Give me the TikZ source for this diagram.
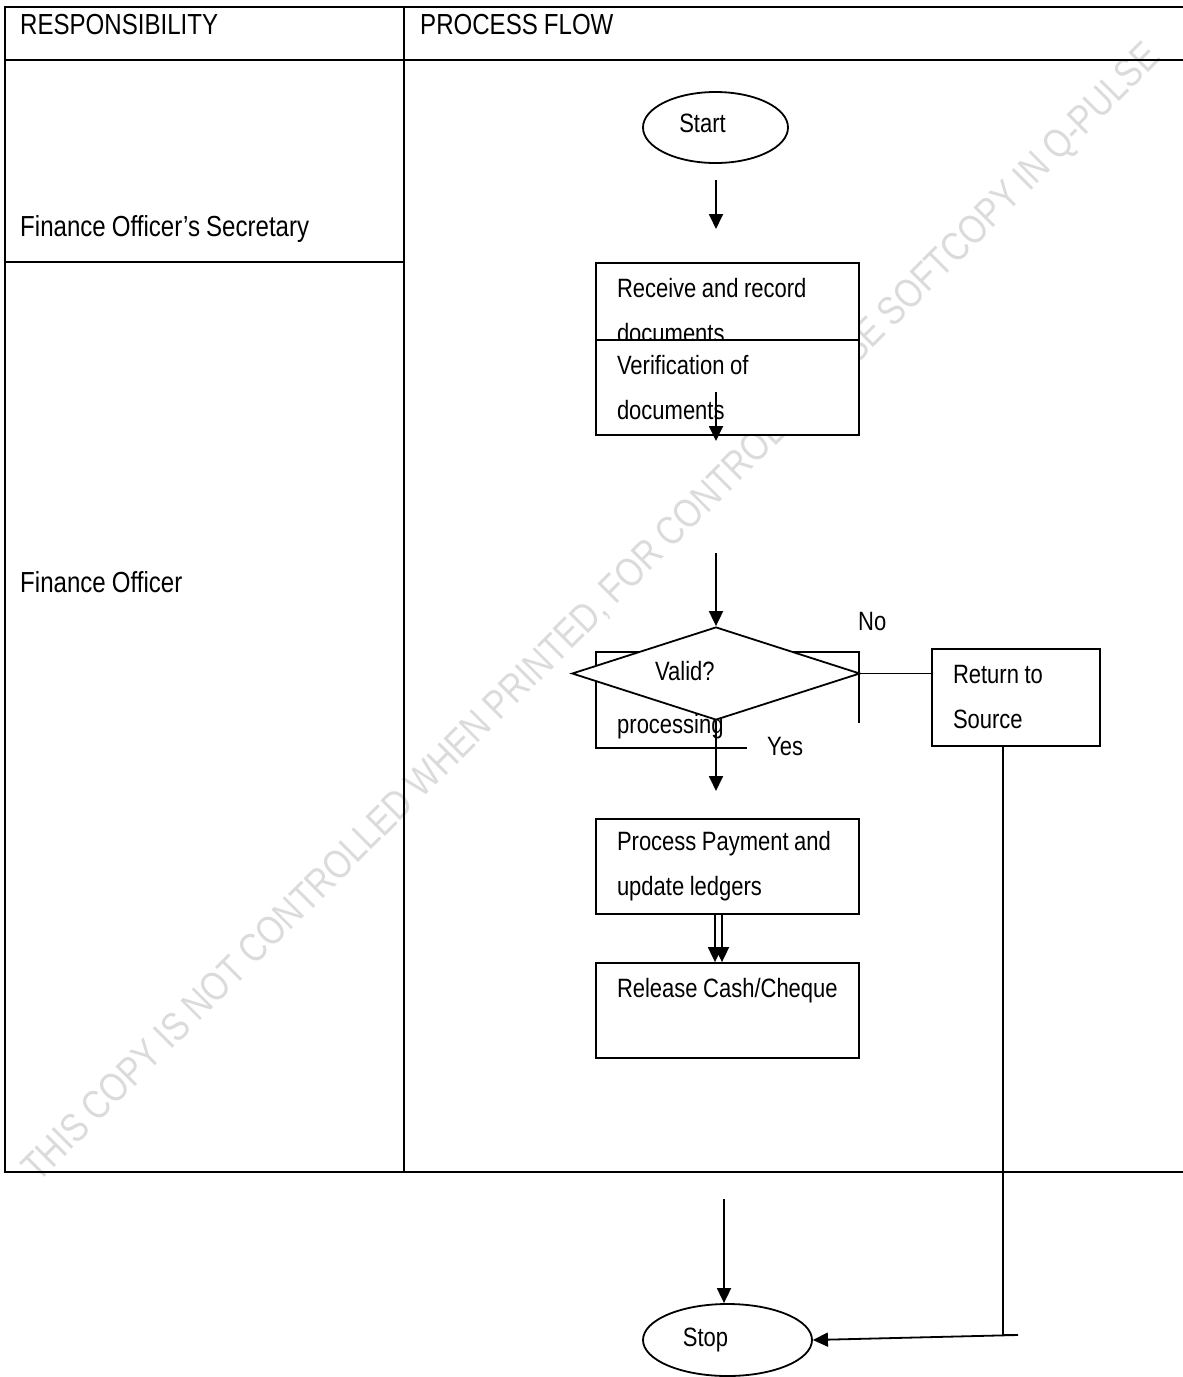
\documentclass[tikz,border=0pt]{standalone}
\usepackage{fontspec}
\setmainfont{Liberation Sans}[FakeStretch=0.83,WordSpace=0.9]
\usepackage{tikz}
\usetikzlibrary{arrows.meta,shapes.geometric,positioning}

\begin{document}
\begin{tikzpicture}[x=1pt,y=-1pt,>={Triangle[length=15pt,width=14pt]},
    every node/.style={font=\fontsize{26.5}{45}\selectfont},
    grid/.style={line width=2.6pt,line cap=rect},
    lbl/.style={anchor=base west,inner sep=0pt},
    lane/.style={lbl,font=\fontsize{29}{34}\selectfont},
    proc/.style={draw,line width=1.8pt,fill=white,inner xsep=21pt,inner ysep=0pt,align=flush left,minimum height=95pt},
    term/.style={draw,ellipse,line width=1.8pt,inner sep=0pt},
    flow/.style={->,line width=1.8pt}]
  \useasboundingbox (0,0) rectangle (1183,1377);
  % watermark
  \node[text=gray!28,rotate=45,inner sep=0pt] (mark) at (593,614)
    {\resizebox{1590pt}{!}{THIS COPY IS NOT CONTROLLED WHEN PRINTED, FOR CONTROLLED USE SOFTCOPY IN Q-PULSE}};
  % table
  \draw[grid] (5,7) -- (1183,7) (5,60) -- (1183,60) (5,262) -- (404,262) (5,1172) -- (1183,1172)
    (5,7) -- (5,1172) (404,7) -- (404,1172);
  \node[lane] (resp) at (20,34) {RESPONSIBILITY};
  \node[lane] (pflow) at (420,34) {PROCESS FLOW};
  \node[lane] (sec) at (20,236) {Finance Officer’s Secretary};
  \node[lane] (fo) at (20,592) {Finance Officer};
  % flow
  \node[term,minimum width=145pt,minimum height=71pt,label={[xshift=-13pt,yshift=4pt]center:Start}] (start) at (715.5,127.5) {};
  \node[proc,text width=221pt] (recv) at (727.5,310.5) {Receive and record\\documents};
  \node[proc,text width=221pt] (verif) at (727.5,387.5) {Verification of\\documents};
  \node[proc,text width=221pt,minimum height=96pt] (hold) at (727.5,700) {};
  \node[diamond,draw,fill=white,line width=1.8pt,inner sep=0pt,minimum width=288pt,minimum height=93pt] (valid) at (716,673.5) {};
  \node[lbl] (validtxt) at (655,680) {Valid?};
  \node[lbl] (holdtxt) at (617,733) {processing};
  \node[fill=white,inner sep=0pt,minimum width=130pt,minimum height=50pt,anchor=north west] (yesbg) at (747,723) {};
  \node[lbl] (yes) at (767,755) {Yes};
  \node[lbl] (no) at (858,630) {No};
  \node[proc,text width=126pt,minimum height=97pt] (ret) at (1016,697.5) {Return to\\Source};
  \node[proc,text width=221pt] (pay) at (727.5,866.5) {Process Payment and\\update ledgers};
  \node[proc,text width=221pt] (rel) at (727.5,1010.5) {\mbox{Release Cash/Cheque}\\~};
  \node[term,minimum width=169pt,minimum height=72pt,label={[xshift=-22pt]center:Stop}] (stop) at (727.5,1340) {};
  % connectors
  \coordinate (a1) at (716,180);
  \coordinate (a1b) at (716,229);
  \coordinate (a2) at (716,392);
  \coordinate (a2b) at (716,441);
  \coordinate (a3) at (716,553);
  \coordinate (a4b) at (716,791);
  \coordinate (a6) at (724,1199);
  \coordinate (bend) at (1003,1335);
  \coordinate (stub) at (1018,1335);
  \draw[flow] (a1) -- (a1b);
  \draw[flow] (a2) -- (a2b);
  \draw[flow] (a3) -- (valid.north);
  \draw[flow] (valid.south) -- (a4b);
  \draw[line width=1.8pt] (valid.east) -- (valid.east -| ret.west);
  \draw[flow] ([xshift=-12.5pt]pay.south) -- ([xshift=-12.5pt]rel.north);
  \draw[flow] ([xshift=-5.5pt]pay.south) -- ([xshift=-5.5pt]rel.north);
  \draw[flow] (a6) -- (stop.north -| a6);
  \draw[line width=1.8pt] (ret.south -| bend) -- (bend) -- (stub);
  \draw[flow] (stub) -- (stop.east);
\end{tikzpicture}
\end{document}
